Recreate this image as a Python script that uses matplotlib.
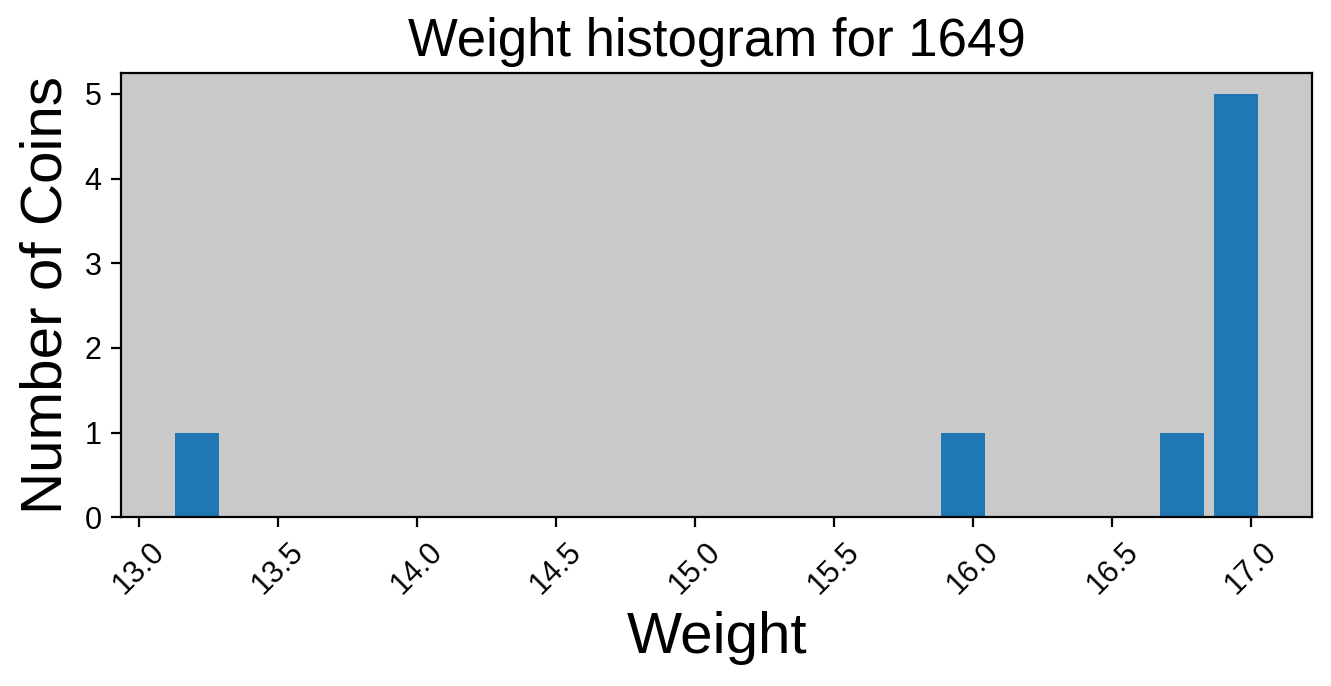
import matplotlib
matplotlib.use('Agg')
import matplotlib.pyplot as plt

year = 1649
weights = [13.11, 15.97, 16.75, 16.88, 16.93, 16.97, 17.00, 17.044]

plt.rcParams['font.family'] = ['Liberation Sans', 'DejaVu Sans']

fig, ax = plt.subplots(figsize=(13.31 / 2, 6.86 / 2), dpi=200)
ax.hist(weights, bins=20, rwidth=0.8, color='#1f77b4')
ax.set_facecolor('#c9c9c9')
ax.set_title(f'Weight histogram for {year}', fontsize=19)
ax.set_xlabel('Weight', fontsize=21)
ax.set_ylabel('Number of Coins', fontsize=21)
ax.tick_params(axis='both', labelsize=11)
plt.xticks(rotation=45)
fig.subplots_adjust(left=0.091, right=0.986, top=0.894, bottom=0.246)
fig.savefig('out.png', dpi=200)
